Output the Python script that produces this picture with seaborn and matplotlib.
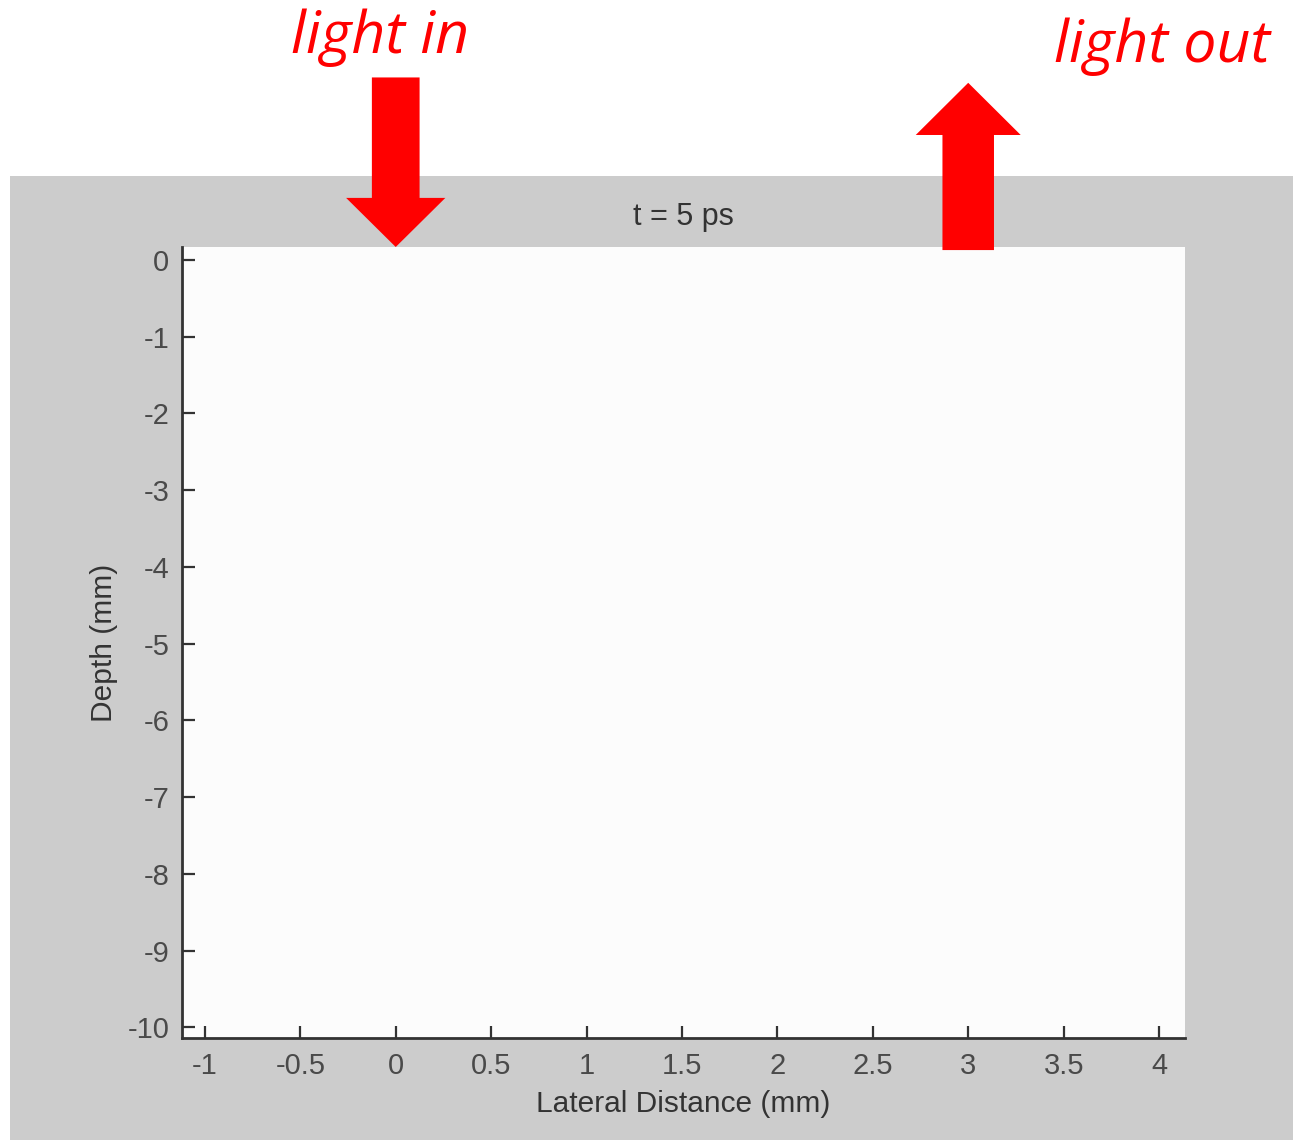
import matplotlib
matplotlib.use("Agg")
import matplotlib.pyplot as plt
import seaborn as sns
from matplotlib.patches import Rectangle, FancyArrow

# Axis ticks and labels (lateral distance and depth, in mm)
x_ticks = [-1, -0.5, 0, 0.5, 1, 1.5, 2, 2.5, 3, 3.5, 4]
x_tick_labels = ["-1", "-0.5", "0", "0.5", "1", "1.5", "2", "2.5", "3", "3.5", "4"]
y_ticks = [0, -1, -2, -3, -4, -5, -6, -7, -8, -9, -10]
y_tick_labels = ["0", "-1", "-2", "-3", "-4", "-5", "-6", "-7", "-8", "-9", "-10"]

# Source and detector lateral positions (mm)
source_x = 0.0
detector_x = 3.0
time_label = "t = 5 ps"

sns.set_style("ticks")
plt.rcParams["font.family"] = ["Liberation Sans", "DejaVu Sans"]
plt.rcParams["axes.unicode_minus"] = False

W, H = 1293, 1140
fig = plt.figure(figsize=(W / 100, H / 100), dpi=100)
fig.patch.set_facecolor("white")

# grey figure panel behind the axes
fig.add_artist(Rectangle((10 / W, 0), 1, 1 - 176 / H, transform=fig.transFigure,
                         facecolor="#cccccc", edgecolor="none", zorder=0))

ax = fig.add_axes([182 / W, 1 - 1038 / H, (1185 - 182) / W, (1038 - 247) / H])
ax.set_facecolor("#fcfcfc")
ax.set_xlim(-1.12, 4.136)
ax.set_ylim(-10.14, 0.17)
sns.despine(ax=ax)
for side in ("left", "bottom"):
    ax.spines[side].set_color("#333333")
    ax.spines[side].set_linewidth(2)

ax.set_xticks(x_ticks)
ax.set_xticklabels(x_tick_labels)
ax.set_yticks(y_ticks)
ax.set_yticklabels(y_tick_labels)
ax.tick_params(axis="both", direction="in", length=9, width=1.6, color="#333333",
               labelsize=21, labelcolor="#4a4a4a")
ax.tick_params(axis="x", pad=10)
ax.tick_params(axis="y", pad=9)

ax.set_title(time_label, fontsize=22, color="#333333", pad=16)
ax.set_xlabel("Lateral Distance (mm)", fontsize=21.5, color="#333333", labelpad=7)
ax.set_ylabel("Depth (mm)", fontsize=21.5, color="#333333", labelpad=7)

red = "#ff0000"
# incoming light: arrow pointing down onto the surface
ax.add_patch(FancyArrow(source_x, 2.38, 0, -2.21, width=0.25, head_width=0.52,
                        head_length=0.64, length_includes_head=True,
                        color=red, lw=0, clip_on=False))
# outgoing light: arrow pointing up from the surface
ax.add_patch(FancyArrow(detector_x, 0.13, 0, 2.18, width=0.27, head_width=0.55,
                        head_length=0.68, length_includes_head=True,
                        color=red, lw=0, clip_on=False))

fig.text(380 / W, 1 - 53 / H, "light in", ha="center", va="baseline",
         fontsize=42.5, fontstyle="italic", family=["Open Sans", "DejaVu Sans"], color=red)
fig.text(1162 / W, 1 - 62 / H, "light out", ha="center", va="baseline",
         fontsize=42.5, fontstyle="italic", family=["Open Sans", "DejaVu Sans"], color=red)

fig.savefig("out.png", dpi=100)
